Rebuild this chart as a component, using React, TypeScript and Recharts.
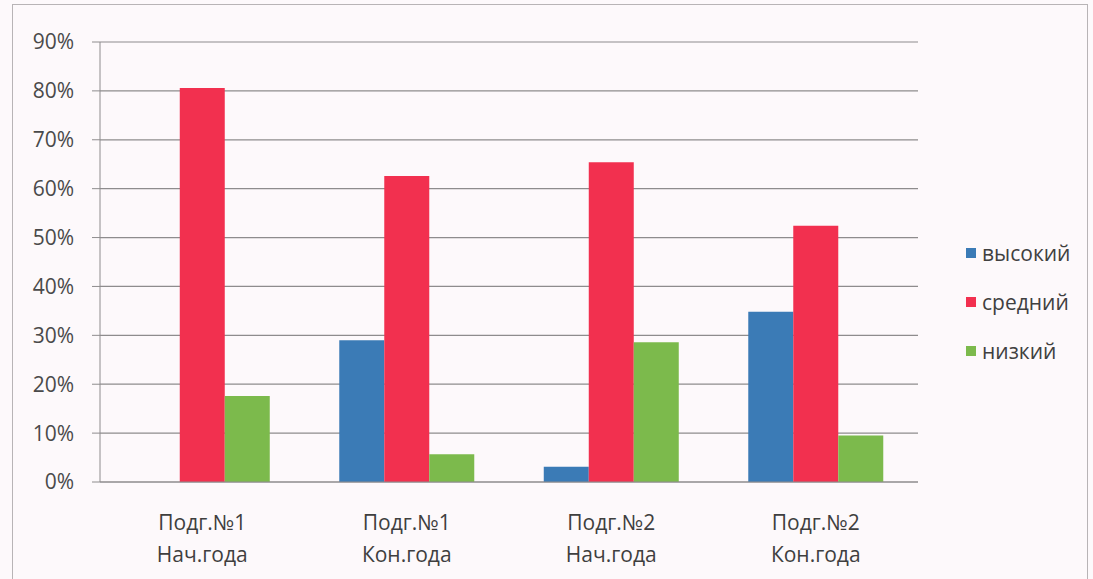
import { BarChart, Bar, XAxis, YAxis, CartesianGrid, Legend } from 'recharts';

const groups = ['Подг.№1|Нач.года', 'Подг.№1|Кон.года', 'Подг.№2|Нач.года', 'Подг.№2|Кон.года'];
const high = [0, 29, 3.1, 34.8];
const mid = [80.6, 62.6, 65.4, 52.4];
const low = [17.6, 5.7, 28.6, 9.5];
const yTicks = [0, 10, 20, 30, 40, 50, 60, 70, 80, 90];

const seriesInfo = [
  { key: 'high', name: 'высокий', color: '#3b7bb6' },
  { key: 'mid', name: 'средний', color: '#f2304f' },
  { key: 'low', name: 'низкий', color: '#7cba4c' },
];

const data = groups.map((g, i) => ({
  group: g,
  high: high[i],
  mid: mid[i],
  low: low[i],
}));

const font = '"Open Sans", sans-serif';

const GroupTick = (props: any) => {
  const { x, y, payload } = props;
  const lines = String(payload.value).split('|');
  return (
    <g transform={`translate(${x},${y})`}>
      {lines.map((line, i) => (
        <text
          key={i}
          x={0}
          y={i * 32 + 40}
          textAnchor="middle"
          fill="#3f3f3f"
          fontSize={21}
          fontFamily={font}
        >
          {line}
        </text>
      ))}
    </g>
  );
};

const LegendBox = () => (
  <div style={{ fontFamily: font, fontSize: 21, color: '#404040' }}>
    {seriesInfo.map((s) => (
      <div key={s.key} style={{ display: 'flex', alignItems: 'center', height: 49 }}>
        <span style={{ width: 10, height: 10, background: s.color, marginRight: 6, display: 'inline-block' }} />
        {s.name}
      </div>
    ))}
  </div>
);

export default function App() {
  return (
    <div style={{ position: 'absolute', left: 0, top: 0, width: 1093, height: 579, background: '#fdf9fb', overflow: 'hidden' }}>
      <div style={{ position: 'absolute', left: 12, top: 4, width: 1074, height: 600, border: '1px solid #b8b4b6' }} />
      <div style={{ position: 'absolute', left: 0, top: 0 }}>
        <BarChart
          width={1093}
          height={579}
          data={data}
          margin={{ top: 42, right: 175, bottom: 37, left: 0 }}
          barCategoryGap="17%"
          barGap={0}
        >
          <CartesianGrid vertical={false} stroke="#8e8c8d" strokeWidth={1.2} />
          <XAxis
            dataKey="group"
            height={60}
            tick={<GroupTick />}
            tickLine={false}
            axisLine={{ stroke: '#8e8c8d' }}
            interval={0}
          />
          <YAxis
            width={100}
            domain={[0, 90]}
            ticks={yTicks}
            tickFormatter={(v: number) => `${v}%`}
            tickSize={8}
            tickMargin={18}
            tickLine={{ stroke: '#8e8c8d' }}
            axisLine={{ stroke: '#8e8c8d' }}
            tick={{ fill: '#4a4a4a', fontSize: 21, fontFamily: font }}
          />
          {seriesInfo.map((s) => (
            <Bar key={s.key} dataKey={s.key} name={s.name} fill={s.color} isAnimationActive={false} />
          ))}
          <Legend
            layout="horizontal"
            verticalAlign="middle"
            content={<LegendBox />}
            wrapperStyle={{ left: 966, top: 228, width: 125 }}
          />
        </BarChart>
      </div>
    </div>
  );
}
